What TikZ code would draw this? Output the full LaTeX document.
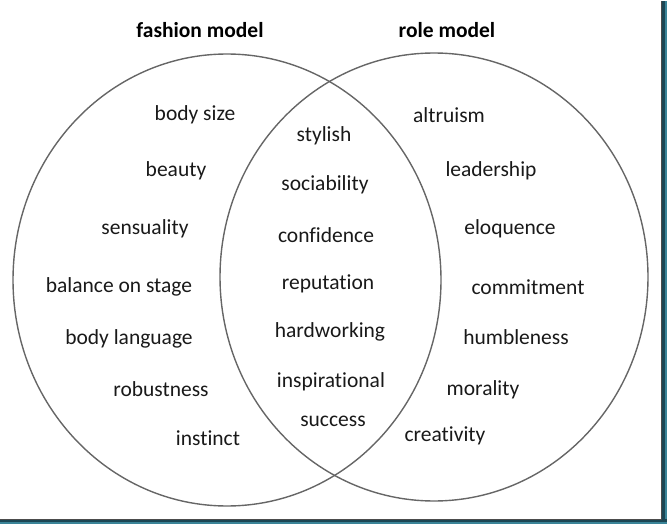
\documentclass[tikz,border=0pt]{standalone}
\usepackage{fontspec}
\setmainfont{Carlito}[Ligatures={NoCommon}]
\usetikzlibrary{positioning}
\definecolor{framedark}{RGB}{28,70,84}
\definecolor{framelight}{RGB}{58,132,152}

\begin{document}
\begin{tikzpicture}[
    x=1pt, y=-1pt,
    item/.style={font=\fontsize{21.5}{24}\selectfont, text=black!90, inner sep=0pt},
    title/.style={font=\fontsize{21.5}{24}\selectfont\bfseries, inner sep=0pt},
    set_line/.style={draw=black!60, line width=1.4pt}
]
\useasboundingbox (0,0) rectangle (667,524);

% ===== Frame shadow =====
\fill[framedark] (662,1) rectangle (665,524);
\fill[framelight] (665,1) rectangle (667,524);
\fill[framedark] (0,519) rectangle (667,522);
\fill[framelight] (0,522) rectangle (667,524);
\draw[black!70, line width=0.8pt] (661.5,1) -- (661.5,519.5) -- (0,519.5);

% ===== Sets =====
\draw[set_line] (227,280) ellipse [x radius=214, y radius=226];
\draw[set_line] (434,277) ellipse [x radius=214, y radius=224];

% Titles
\node[title] (fashion) at (200,30) {fashion model};
\node[title] (role) at (447,30) {role model};

% ===== LEFT: fashion model only =====
\node[item] (bodysize) at (195,115) {body size};
\node[item] (beauty) at (176,171) {beauty};
\node[item] (sensual) at (145,229) {sensuality};
\node[item] (balance) at (119,287) {balance on stage};
\node[item] (bodylang) at (129,339) {body language};
\node[item] (robust) at (161,389) {robustness};
\node[item] (instinct) at (208,438) {instinct};

% ===== MIDDLE: both =====
\node[item] (stylish) at (324,136) {stylish};
\node[item] (sociab) at (325,185) {sociability};
\node[item] (confid) at (326,235) {confidence};
\node[item] (reput) at (328,284) {reputation};
\node[item] (hardw) at (330,332) {hardworking};
\node[item] (inspir) at (331,382) {inspirational};
\node[item] (success) at (333,421) {success};

% ===== RIGHT: role model only =====
\node[item] (altru) at (449,115) {altruism};
\node[item] (leader) at (491,171) {leadership};
\node[item] (eloq) at (510,229) {eloquence};
\node[item] (commit) at (528,287) {commitment};
\node[item] (humble) at (516,337) {humbleness};
\node[item] (moral) at (483,390) {morality};
\node[item] (creat) at (445,436) {creativity};

\end{tikzpicture}
\end{document}
